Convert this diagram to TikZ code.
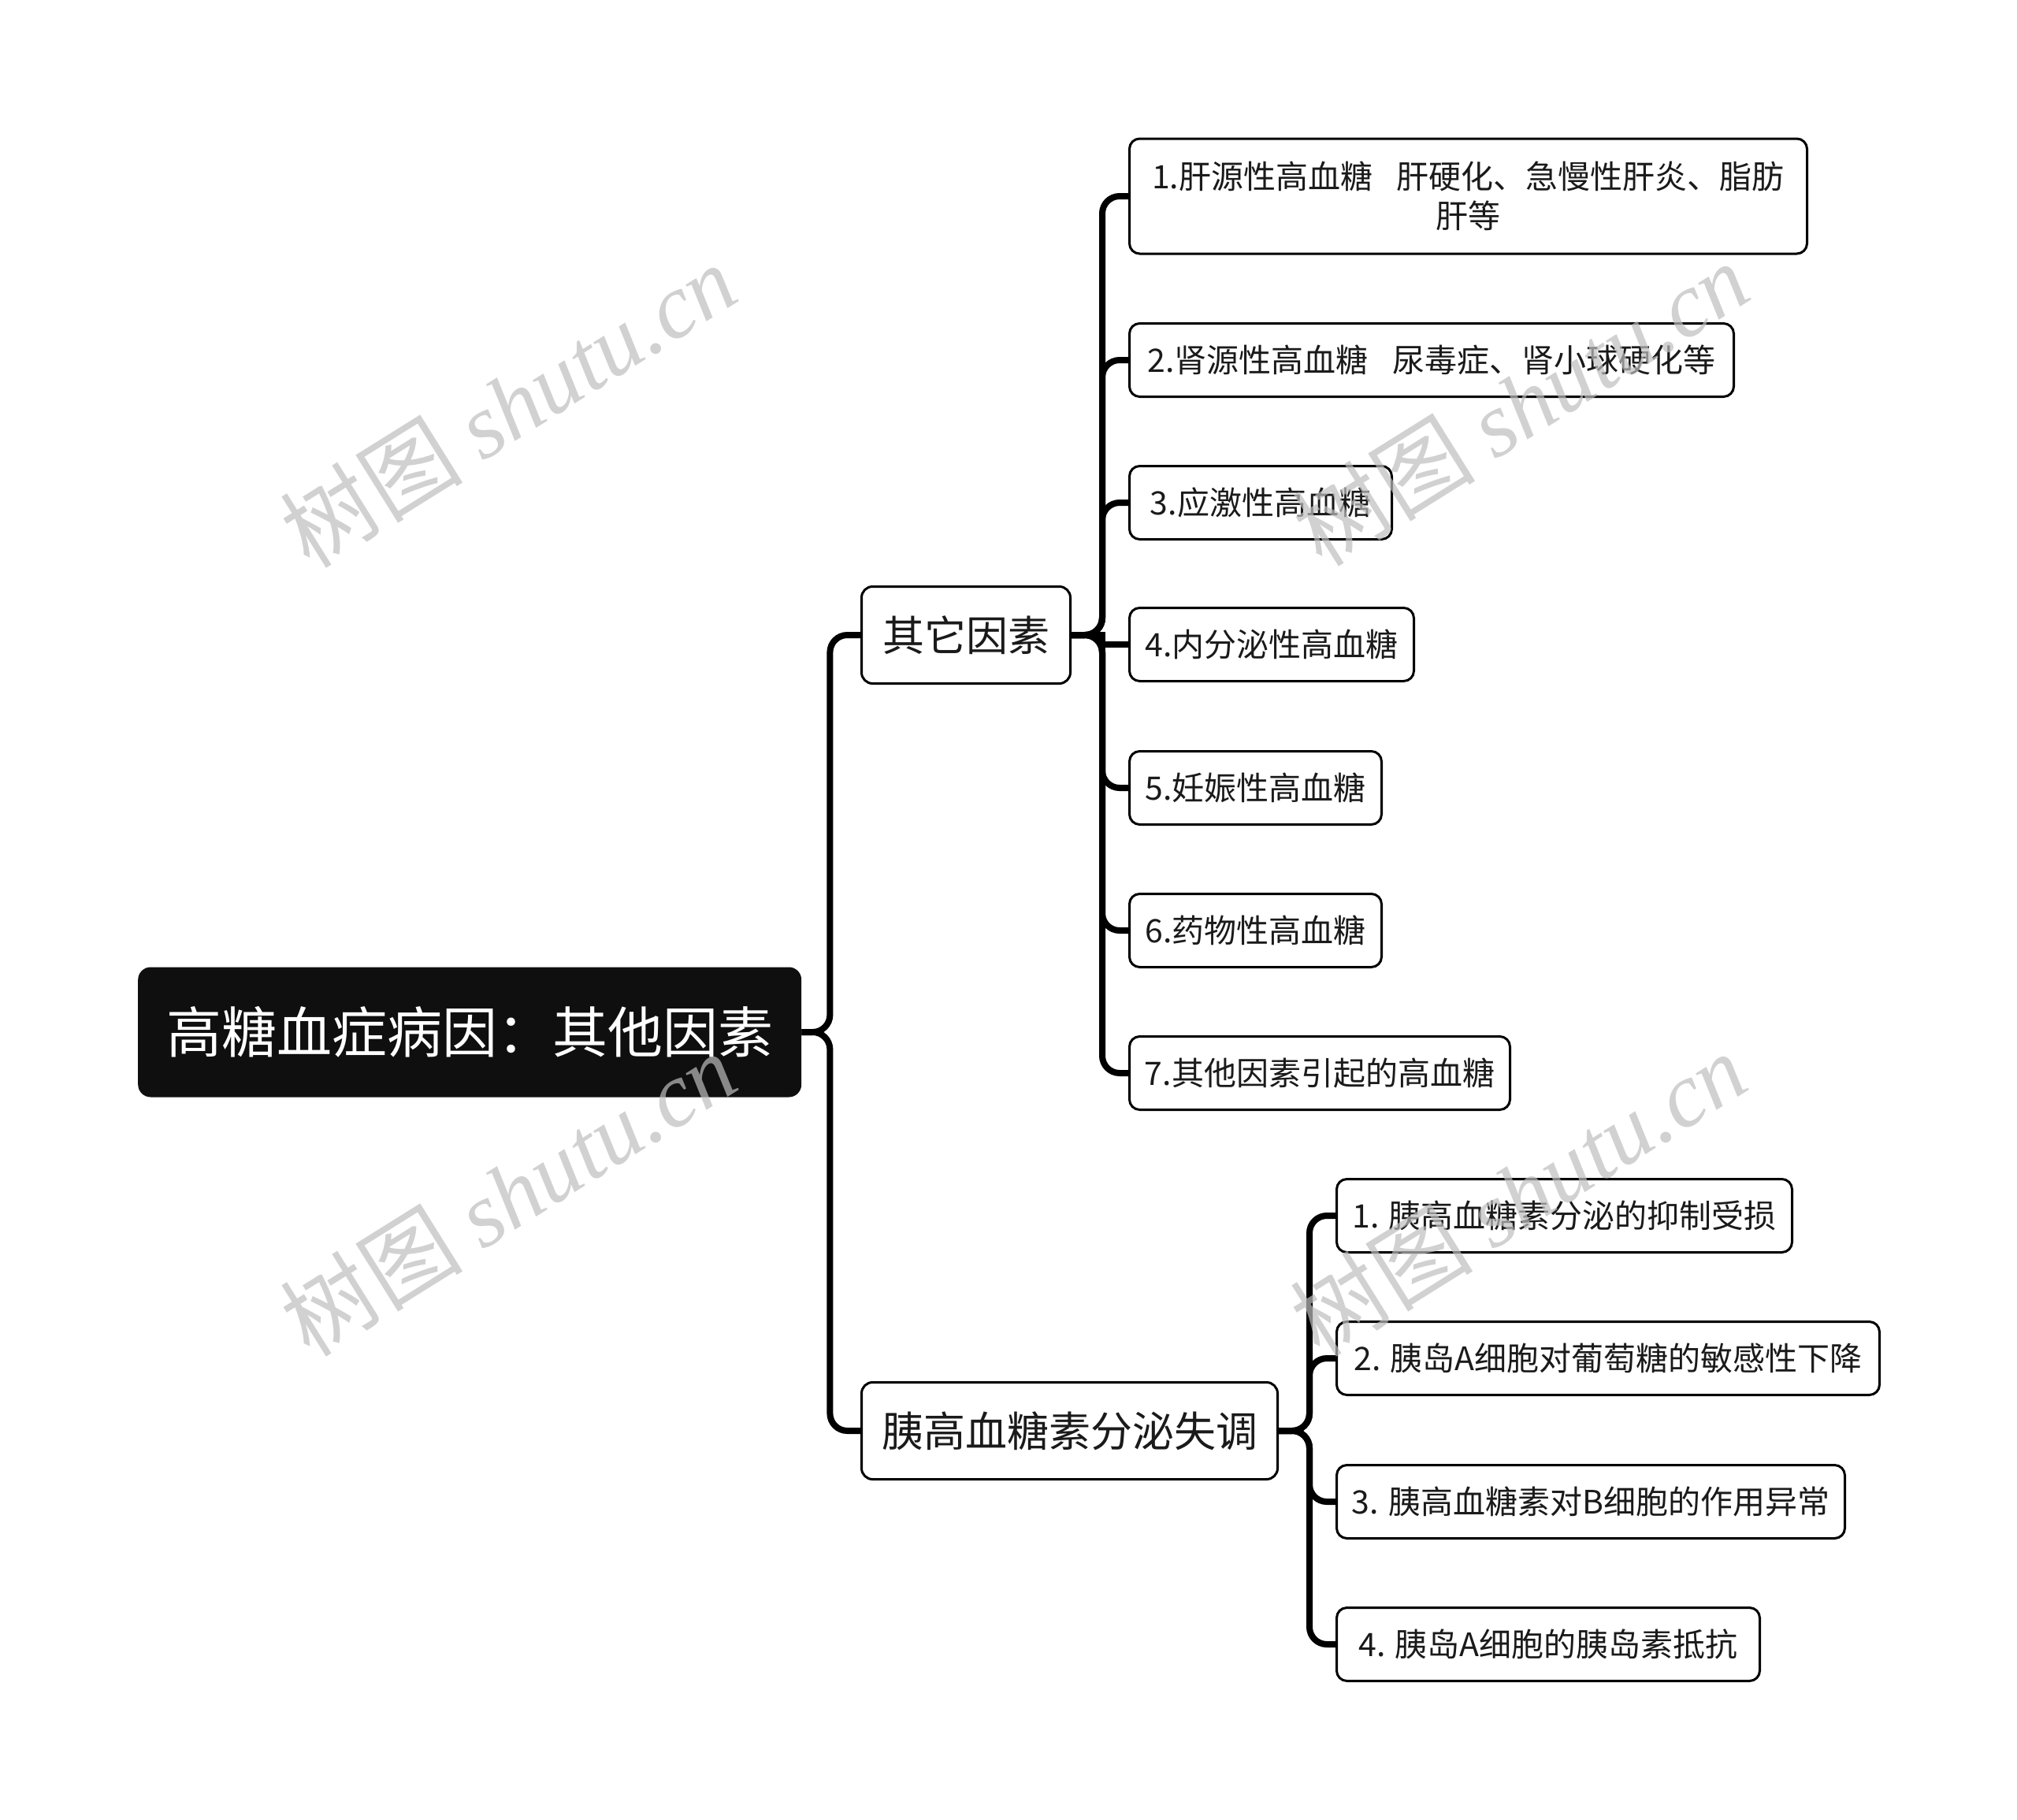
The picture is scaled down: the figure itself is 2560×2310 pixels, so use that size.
\documentclass[tikz,border=0pt]{standalone}
\usepackage{fontspec}
\setmainfont{Noto Sans CJK SC}
\newfontfamily\wmlatin{Liberation Serif}
\definecolor{rootblack}{HTML}{0F0F0F}
\definecolor{txt}{HTML}{1A1A1A}
\definecolor{wm}{HTML}{BEBEBE}
\begin{document}
\begin{tikzpicture}[x=1pt,y=-1pt,
  rootbox/.style={fill=rootblack, rounded corners=16pt, text=white, inner sep=0pt,
    font=\fontsize{70}{84}\selectfont, minimum height=165pt, anchor=west},
  lvone/.style={draw=black, line width=3pt, fill=white, rounded corners=14pt, text=txt, inner sep=0pt,
    font=\fontsize{53}{63}\selectfont, minimum height=123pt, anchor=west},
  lvtwo/.style={draw=black, line width=3pt, fill=white, rounded corners=13pt, text=txt, inner sep=0pt,
    font=\fontsize{41}{50}\selectfont, minimum height=93pt, anchor=west},
  link/.style={line width=8pt, draw=black, rounded corners=22pt},
  linksharp/.style={line width=8pt, draw=black},
  wmark/.style={text=wm, opacity=0.7, rotate=32, font=\fontsize{116}{126}\selectfont}]
\useasboundingbox (0,0) rectangle (2560,2310);

% root
\node[rootbox, minimum width=842pt] (root) at (175,1310) {高糖血症病因：其他因素};

% level one
\node[lvone, minimum width=265pt] (oth) at (1092,806) {其它因素};
\node[lvone, minimum width=528pt] (yi) at (1092,1816) {胰高血糖素分泌失调};

% children of 其它因素
\node[lvtwo, minimum width=860pt, minimum height=146pt, align=center] (a1) at (1432,249)
  {1.肝源性高血糖\hspace{0.75em}肝硬化、急慢性肝炎、脂肪\\肝等};
\node[lvtwo, minimum width=767pt] (a2) at (1432,457) {2.肾源性高血糖\hspace{0.75em}尿毒症、肾小球硬化等};
\node[lvtwo, minimum width=333pt] (a3) at (1432,638) {3.应激性高血糖};
\node[lvtwo, minimum width=361pt] (a4) at (1432,818) {4.内分泌性高血糖};
\node[lvtwo, minimum width=320pt] (a5) at (1432,1000) {5.妊娠性高血糖};
\node[lvtwo, minimum width=320pt] (a6) at (1432,1181) {6.药物性高血糖};
\node[lvtwo, minimum width=483pt] (a7) at (1432,1362) {7.其他因素引起的高血糖};

% children of 胰高血糖素分泌失调
\node[lvtwo, minimum width=578pt] (b1) at (1695,1543) {1. 胰高血糖素分泌的抑制受损};
\node[lvtwo, minimum width=689pt] (b2) at (1695,1724) {2. 胰岛A细胞对葡萄糖的敏感性下降};
\node[lvtwo, minimum width=645pt] (b3) at (1695,1906) {3. 胰高血糖素对B细胞的作用异常};
\node[lvtwo, minimum width=537pt] (b4) at (1695,2087) {4. 胰岛A细胞的胰岛素抵抗};

% connectors root
\coordinate (rt) at ([xshift=36pt]root.east);
\draw[link] (root.east) -- (rt) |- (oth.west);
\draw[link] (root.east) -- (rt) |- (yi.west);

% connectors 其它因素
\coordinate (ot) at ([xshift=39pt]oth.east);
\foreach \c in {a1,a2,a3,a5,a6,a7}{
  \draw[link] (oth.east) -- (ot) |- (\c.west);
}
\draw[linksharp] (oth.east) -- (ot) |- (a4.west);

% connectors 胰高血糖素分泌失调
\coordinate (yt) at ([xshift=39pt]yi.east);
\foreach \c in {b1,b2,b3,b4}{
  \draw[link] (yi.east) -- (yt) |- (\c.west);
}

% watermarks
\node[wmark] (w1) at (645,514) {树图 {\wmlatin\itshape shutu.cn}};
\node[wmark] (w2) at (1930,512) {树图 {\wmlatin\itshape shutu.cn}};
\node[wmark] (w3) at (645,1515) {树图 {\wmlatin\itshape shutu.cn}};
\node[wmark] (w4) at (1927,1515) {树图 {\wmlatin\itshape shutu.cn}};
\end{tikzpicture}
\end{document}
